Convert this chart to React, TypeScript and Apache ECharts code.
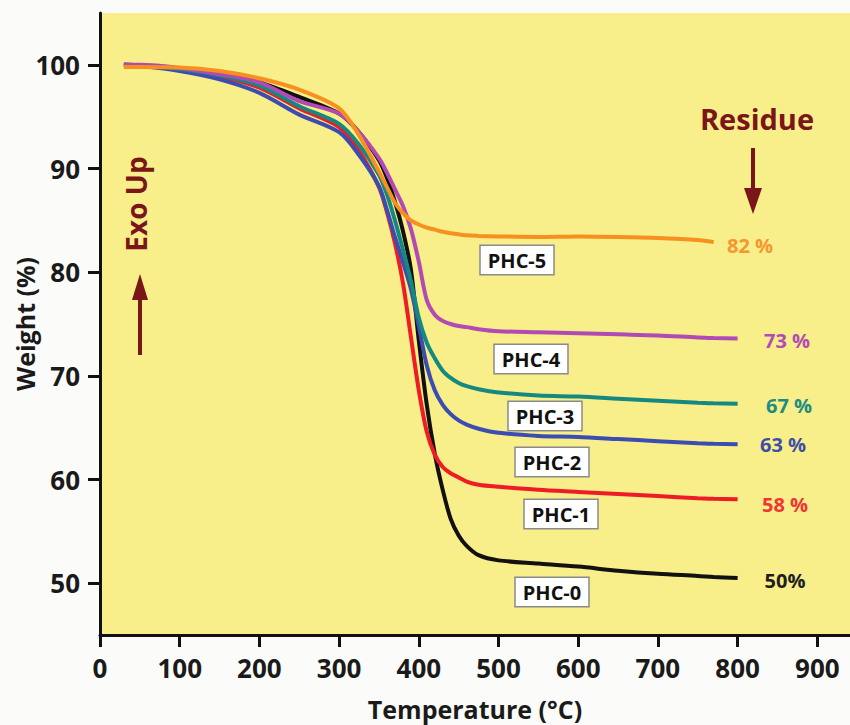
import React, { useEffect, useRef } from "react";
import * as echarts from "echarts";

// Temperature grid (°C)
const temps = [30, 50, 100, 150, 200, 250, 300, 325, 350, 360, 370, 380, 390, 400, 410, 420, 430, 440, 450, 460, 475, 500, 550, 600, 650, 700, 750, 770, 800];

// Weight (%) per sample
const phc0 = [100, 99.95, 99.6, 99.1, 98.3, 96.9, 95.3, 93.5, 90.8, 89.1, 86.8, 84.0, 80.3, 73.4, 67.2, 62.5, 59.0, 56.2, 54.6, 53.6, 52.7, 52.2, 51.9, 51.6, 51.2, 50.9, 50.7, 50.6, 50.5];
const phc1 = [100, 99.95, 99.6, 98.9, 97.8, 95.8, 94.0, 91.7, 88.2, 85.8, 82.8, 79.0, 73.8, 68.6, 64.6, 62.4, 61.2, 60.6, 60.2, 59.8, 59.5, 59.3, 59.0, 58.8, 58.6, 58.4, 58.2, 58.15, 58.1];
const phc2 = [100, 99.9, 99.4, 98.6, 97.3, 95.2, 93.5, 91.3, 88.3, 86.0, 83.4, 81.0, 78.4, 74.8, 71.0, 68.6, 67.2, 66.3, 65.7, 65.3, 64.9, 64.5, 64.2, 64.1, 63.9, 63.7, 63.5, 63.45, 63.4];
const phc3 = [100, 99.95, 99.6, 99.0, 98.0, 96.0, 94.3, 92.3, 89.4, 87.5, 85.0, 82.2, 79.2, 75.6, 73.2, 71.7, 70.5, 69.8, 69.3, 69.0, 68.7, 68.4, 68.1, 68.0, 67.8, 67.6, 67.4, 67.35, 67.3];
const phc4 = [100, 100, 99.7, 99.1, 98.3, 96.5, 95.3, 93.5, 91.0, 89.6, 88.0, 86.4, 84.2, 81.0, 77.3, 75.9, 75.3, 75.0, 74.8, 74.7, 74.5, 74.3, 74.2, 74.1, 74.0, 73.9, 73.7, 73.65, 73.6];
const phc5 = [99.8, 99.8, 99.75, 99.4, 98.7, 97.6, 95.8, 93.2, 89.7, 88.2, 86.7, 85.7, 85.0, 84.6, 84.3, 84.1, 83.9, 83.75, 83.65, 83.55, 83.5, 83.45, 83.4, 83.45, 83.4, 83.3, 83.1, 82.9, null];

const seriesNames = ["PHC-0", "PHC-1", "PHC-2", "PHC-3", "PHC-4", "PHC-5"];
const seriesData = [phc0, phc1, phc2, phc3, phc4, phc5];
const seriesColors = ["#111111", "#EE1C25", "#3C4DB2", "#15897F", "#B24AB6", "#F7901E"];

const residueLabels = ["50%", "58 %", "63 %", "67 %", "73 %", "82 %"];
const residueColors = ["#1e1e1e", "#EF3535", "#3F4FA8", "#1E8C80", "#B04DB2", "#F5962E"];

const xTicks = [0, 100, 200, 300, 400, 500, 600, 700, 800, 900];
const yTicks = [50, 60, 70, 80, 90, 100];

const FONT = '"Open Sans", "Liberation Sans", sans-serif';

export default function App() {
  const ref = useRef<HTMLDivElement>(null);
  useEffect(() => {
    if (!ref.current) return;
    const chart = echarts.init(ref.current, null, { renderer: "svg" });

    const series = seriesData.map((vals, i) => ({
      name: seriesNames[i],
      type: "line",
      data: temps.map((t, j) => [t, vals[j]]),
      showSymbol: false,
      smooth: 0.3,
      connectNulls: false,
      lineStyle: { color: seriesColors[i], width: 4 },
      itemStyle: { color: seriesColors[i] },
    }));

    const boxPos = [
      [552, 592],
      [561, 514],
      [552, 462],
      [545, 416],
      [531, 359],
      [517, 260],
    ];
    const pctPos = [
      [785, 580],
      [785, 504],
      [783, 444],
      [789, 405],
      [787, 340],
      [750, 245],
    ];

    const graphic: any[] = [];
    seriesNames.forEach((n, i) => {
      graphic.push({
        type: "text",
        x: boxPos[i][0],
        y: boxPos[i][1],
        z: 10,
        style: {
          text: n,
          font: `bold 20px ${FONT}`,
          fill: "#111",
          align: "center",
          verticalAlign: "middle",
          backgroundColor: "#ffffff",
          borderColor: "#8a8a8a",
          borderWidth: 1.5,
          padding: [5, 7, 3, 7],
        },
      });
      graphic.push({
        type: "text",
        x: pctPos[i][0],
        y: pctPos[i][1],
        z: 10,
        style: {
          text: residueLabels[i],
          font: `bold 20px ${FONT}`,
          fill: residueColors[i],
          align: "center",
          verticalAlign: "middle",
        },
      });
    });

    const maroon = "#7A1519";
    graphic.push(
      {
        type: "text",
        x: 757,
        y: 118,
        z: 10,
        style: { text: "Residue", font: `bold 29px ${FONT}`, fill: maroon, align: "center", verticalAlign: "middle" },
      },
      { type: "line", z: 10, shape: { x1: 753, y1: 148, x2: 753, y2: 195 }, style: { stroke: maroon, lineWidth: 4 } },
      { type: "polygon", z: 10, shape: { points: [[744, 188], [762, 188], [753, 214]] }, style: { fill: maroon } },
      {
        type: "text",
        x: 136,
        y: 204,
        rotation: Math.PI / 2,
        z: 10,
        style: { text: "Exo Up", font: `bold 28px ${FONT}`, fill: maroon, align: "center", verticalAlign: "middle" },
      },
      { type: "line", z: 10, shape: { x1: 140, y1: 355, x2: 140, y2: 292 }, style: { stroke: maroon, lineWidth: 4 } },
      { type: "polygon", z: 10, shape: { points: [[132, 300], [148, 300], [140, 274]] }, style: { fill: maroon } }
    );

    chart.setOption({
      animation: false,
      backgroundColor: "#FBFBF9",
      grid: {
        left: 100,
        right: 0,
        top: 13,
        bottom: 90,
        show: true,
        backgroundColor: "#F8EE8A",
        borderWidth: 0,
        containLabel: false,
        outerBoundsMode: "none",
      },
      xAxis: {
        type: "value",
        min: 0,
        max: 941,
        name: "Temperature (°C)",
        nameLocation: "middle",
        nameGap: 61,
        nameMoveOverlap: false,
        nameTextStyle: { fontFamily: FONT, fontWeight: "bold", fontSize: 25, color: "#1a1a1a" },
        axisLine: { show: true, onZero: false, lineStyle: { color: "#111", width: 3 } },
        axisTick: { show: true, customValues: xTicks, length: 12, lineStyle: { color: "#111", width: 3 } },
        axisLabel: {
          customValues: xTicks,
          margin: 20,
          fontFamily: FONT,
          fontWeight: "bold",
          fontSize: 26,
          color: "#1a1a1a",
        },
        splitLine: { show: false },
      },
      yAxis: {
        type: "value",
        min: 45,
        max: 105,
        name: "Weight (%)",
        nameLocation: "middle",
        nameGap: 63,
        nameMoveOverlap: false,
        nameTextStyle: { fontFamily: FONT, fontWeight: "bold", fontSize: 25, color: "#1a1a1a" },
        axisLine: { show: true, onZero: false, lineStyle: { color: "#111", width: 3 } },
        axisTick: { show: true, customValues: yTicks, length: 12, lineStyle: { color: "#111", width: 3 } },
        axisLabel: {
          customValues: yTicks,
          margin: 20,
          fontFamily: FONT,
          fontWeight: "bold",
          fontSize: 26,
          color: "#1a1a1a",
        },
        splitLine: { show: false },
      },
      series,
      graphic,
    });
    return () => chart.dispose();
  }, []);
  return (
    <div
      ref={ref}
      style={{ position: "absolute", left: 0, top: 0, width: 850, height: 725 }}
    />
  );
}
